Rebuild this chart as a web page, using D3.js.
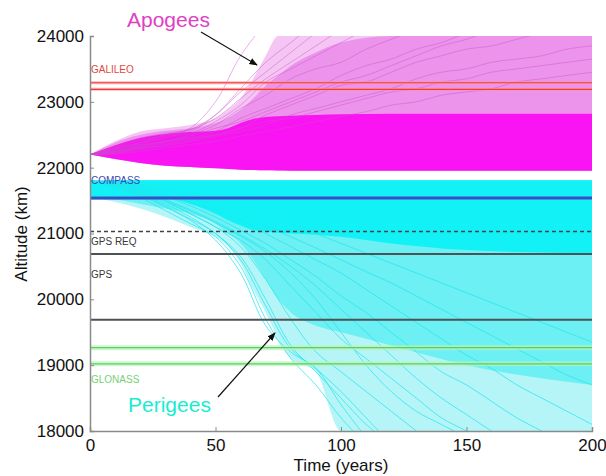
<!DOCTYPE html>
<html><head><meta charset="utf-8">
<script src="https://cdn.jsdelivr.net/npm/d3@7"></script>
<style>body{margin:0;background:#fff}svg{display:block;font-family:"Liberation Sans",Arial,sans-serif}</style>
</head><body>
<svg id="c" width="606" height="476"></svg>
<script>
// ---- data (km, years) ----
const xTicks = [0, 50, 100, 150, 200];
const yTicks = [18000, 19000, 20000, 21000, 22000, 23000, 24000];
const envTimes = [0, 10, 20, 30, 40, 50, 55, 60, 65, 70, 75, 80, 90, 100, 120, 150, 200];
const apoLower = [22200, 22130, 22070, 22030, 22010, 21990, 21980, 21970, 21965, 21960, 21958, 21955, 21955, 21955, 21955, 21955, 21955];
const apoOuter = [22200, 22400, 22550, 22600, 22650, 22750, 22880, 23050, 23350, 23700, 24000, 24000, 24000, 24000, 24000, 24000, 24000];
const apoMid = [22200, 22380, 22500, 22560, 22600, 22680, 22760, 22880, 23050, 23250, 23400, 23550, 23750, 23900, 24000, 24000, 24000];
const apoCore = [22200, 22340, 22450, 22510, 22540, 22560, 22600, 22680, 22740, 22770, 22780, 22790, 22800, 22810, 22820, 22820, 22820];
const periUpper = [21790, 21810, 21810, 21810, 21810, 21810, 21810, 21810, 21810, 21810, 21810, 21810, 21810, 21810, 21810, 21810, 21810];
const periOuter = [21560, 21480, 21380, 21250, 21100, 20950, 20800, 20550, 20150, 19800, 19400, 19100, 18900, 18000, 18000, 18000, 18000];
const periMid = [21560, 21520, 21450, 21380, 21300, 21150, 21000, 20850, 20600, 20300, 20000, 19800, 19600, 19500, 19300, 19000, 18700];
const periCore = [21560, 21560, 21560, 21540, 21450, 21300, 21200, 21120, 21050, 21030, 21010, 21000, 20980, 20950, 20850, 20750, 20700];
const lineStep = 10; // years between samples of individual trajectories
const apogeeLines = [
  [22200, 22280, 22380, 22450, 22600, 23000, 23700, 24200],
  [22200, 22250, 22350, 22500, 22550, 22800, 23200, 23600, 23900, 24200],
  [22200, 22300, 22420, 22480, 22520, 22700, 22950, 23300, 23500, 23700, 23900, 24100],
  [22200, 22260, 22330, 22400, 22500, 22650, 22900, 23100, 23350, 23500, 23600, 23800, 23950, 24100],
  [22200, 22240, 22300, 22380, 22450, 22550, 22750, 22900, 23050, 23200, 23400, 23550, 23650, 23800, 23900, 24050],
  [22200, 22220, 22280, 22350, 22420, 22500, 22600, 22800, 22950, 23100, 23250, 23300, 23450, 23600, 23700, 23800, 23850, 23950, 24050],
  [22200, 22230, 22300, 22330, 22400, 22480, 22550, 22650, 22800, 22900, 23000, 23100, 23200, 23350, 23450, 23500, 23600, 23650, 23700, 23800, 23850],
  [22200, 22300, 22350, 22400, 22450, 22500, 22600, 22700, 22750, 22850, 22950, 23050, 23150, 23200, 23300, 23350, 23450, 23500, 23550, 23600, 23650],
  [22200, 22280, 22380, 22500, 22580, 22800, 23150, 23450, 23750, 24050],
  [22200, 22320, 22450, 22520, 22580, 22750, 23050, 23350, 23600, 23850, 24100],
  [22200, 22250, 22320, 22400, 22480, 22600, 22700, 22850, 23000, 23150, 23300, 23400, 23550, 23700, 23850, 23950, 24100],
  [22200, 22210, 22250, 22300, 22350, 22400, 22480, 22550, 22620, 22700, 22780, 22850, 22950, 23000, 23100, 23150, 23200, 23300, 23350, 23400, 23450]
];
const perigeeLines = [
  [21800, 21700, 21550, 21350, 21150, 20950, 20500, 19700, 19100, 18700, 18200, 17800],
  [21800, 21720, 21600, 21450, 21250, 21000, 20650, 20000, 19300, 18900, 18500, 18100, 17800],
  [21800, 21750, 21650, 21500, 21300, 21100, 20800, 20300, 19700, 19200, 18900, 18600, 18300, 18000, 17700],
  [21800, 21740, 21620, 21480, 21300, 21100, 20900, 20600, 20200, 19800, 19400, 19100, 18800, 18500, 18200, 18000, 17800],
  [21800, 21760, 21680, 21560, 21420, 21250, 21050, 20850, 20600, 20350, 20050, 19800, 19500, 19200, 18900, 18700, 18450, 18200, 18000, 17800],
  [21800, 21770, 21700, 21600, 21480, 21350, 21200, 21000, 20800, 20600, 20400, 20150, 19900, 19650, 19400, 19150, 18950, 18700, 18500, 18300, 18100],
  [21800, 21780, 21720, 21640, 21540, 21420, 21280, 21120, 20950, 20780, 20600, 20420, 20250, 20050, 19850, 19650, 19450, 19250, 19050, 18850, 18700],
  [21800, 21700, 21580, 21400, 21200, 20900, 20400, 19600, 19200, 18950, 18400, 17900],
  [21800, 21730, 21600, 21420, 21220, 21000, 20600, 19900, 19250, 18950, 18600, 18200, 17800],
  [21800, 21760, 21660, 21520, 21360, 21180, 20980, 20760, 20500, 20200, 19850, 19500, 19150, 18800, 18500, 18250, 18000, 17800],
  [21800, 21790, 21740, 21670, 21590, 21500, 21400, 21280, 21150, 21000, 20850, 20700, 20550, 20400, 20250, 20100, 19950, 19800, 19650, 19500, 19350],
  [21800, 21750, 21640, 21500, 21340, 21160, 20960, 20720, 20400, 20000, 19500, 19000, 18600, 18300, 18100, 17900]
];
const refNames = ["GALILEO", "COMPASS", "GPS REQ", "GPS", "GLONASS"];
const refAltitudes = [[23290, 23190], [21540], [21030], [20690, 19690], [19265, 19020]];

// ---- drawing ----
const svg = d3.select("#c");
const x = d3.scaleLinear().domain([0, 200]).range([90, 592]);
const y = d3.scaleLinear().domain([18000, 24000]).range([431, 36]);

svg.append("defs").append("clipPath").attr("id", "plot")
  .append("rect").attr("x", 90).attr("y", 36).attr("width", 502).attr("height", 395);
svg.select("defs").append("marker").attr("id", "arr").attr("viewBox", "0 0 10 10")
  .attr("refX", 9).attr("refY", 5).attr("markerWidth", 7).attr("markerHeight", 7).attr("orient", "auto")
  .append("path").attr("d", "M0,1 L10,5 L0,9 Z").attr("fill", "#111");

const g = svg.append("g").attr("clip-path", "url(#plot)");
const band = (lo, hi) => d3.area().x((d, i) => x(envTimes[i])).y0((d, i) => y(lo[i])).y1((d, i) => y(hi[i])).curve(d3.curveMonotoneX)(envTimes);

g.append("path").attr("d", band(apoLower, apoOuter)).attr("fill", "#f5c6f3");
g.append("path").attr("d", band(apoLower, apoMid)).attr("fill", "#ec94ec");
g.append("path").attr("d", band(apoLower, apoCore)).attr("fill", "#fb14f3");
g.append("path").attr("d", band(periOuter, periUpper)).attr("fill", "#b6f5f7");
g.append("path").attr("d", band(periMid, periUpper)).attr("fill", "#6cf0f4");
g.append("path").attr("d", band(periCore, periUpper)).attr("fill", "#12f2f6");

const traj = d3.line().x((d, i) => x(i * lineStep)).y(d => y(d)).curve(d3.curveCatmullRom);
g.selectAll(".apo").data(apogeeLines).join("path").attr("d", traj)
  .attr("fill", "none").attr("stroke", "#c84ec8").attr("stroke-width", 0.8).attr("opacity", 0.55);
g.selectAll(".per").data(perigeeLines).join("path").attr("d", traj)
  .attr("fill", "none").attr("stroke", "#1ee6ee").attr("stroke-width", 0.9).attr("opacity", 0.8);

// reference altitude lines
const refStyles = [
  {glow: "#ff9a9a", c: "#ee3a3a", w: 1.2, gw: 3, dash: null},
  {glow: "#5a8ae0", c: "#2458c4", w: 2.6, gw: 4, dash: null},
  {glow: null, c: "#3c4448", w: 1.6, gw: 0, dash: "4,3"},
  {glow: null, c: "#4c5256", w: 2, gw: 0, dash: null},
  {glow: "#b8f4b8", c: "#5ccc66", w: 1.2, gw: 5, dash: null}
];
refAltitudes.forEach((alts, k) => {
  const s = refStyles[k];
  alts.forEach(a => {
    if (s.glow) g.append("line").attr("x1", x(0)).attr("x2", x(200)).attr("y1", y(a)).attr("y2", y(a))
      .attr("stroke", s.glow).attr("stroke-width", s.gw).attr("opacity", 0.7);
    g.append("line").attr("x1", x(0)).attr("x2", x(200)).attr("y1", y(a)).attr("y2", y(a))
      .attr("stroke", s.c).attr("stroke-width", s.w).attr("stroke-dasharray", s.dash);
  });
});
const labelCols = ["#e0483c", "#3848b8", "#383838", "#383838", "#78d078"];
const labelAlt = [23500, 21820, 20880, 20380, 18790];
refNames.forEach((n, k) => {
  svg.append("text").attr("x", 91).attr("y", y(labelAlt[k]) + 4).text(n)
    .attr("font-size", 10).attr("fill", labelCols[k]);
});

// axes
const ax = svg.append("g").attr("transform", "translate(0,431)")
  .call(d3.axisBottom(x).tickValues(xTicks).tickSize(-4).tickPadding(8).tickFormat(d3.format("d")));
const ay = svg.append("g").attr("transform", "translate(90,0)")
  .call(d3.axisLeft(y).tickValues(yTicks).tickSize(-4).tickPadding(6).tickFormat(d3.format("d")));
[ax, ay].forEach(a => {
  a.select(".domain").attr("stroke", "#8a8a8a").attr("stroke-width", 1.5);
  a.selectAll(".tick line").attr("stroke", "#8a8a8a");
  a.selectAll("text").attr("font-size", 17).attr("fill", "#111").attr("font-family", "Liberation Sans, Arial, sans-serif");
});

svg.append("text").attr("x", 341).attr("y", 471).attr("text-anchor", "middle")
  .attr("font-size", 17).attr("fill", "#111").text("Time (years)");
svg.append("text").attr("transform", "translate(27,234) rotate(-90)").attr("text-anchor", "middle")
  .attr("font-size", 17).attr("fill", "#111").text("Altitude (km)");

// annotations
svg.append("text").attr("x", 127).attr("y", 27).attr("font-size", 21).attr("fill", "#e040c4").text("Apogees");
svg.append("line").attr("x1", 201).attr("y1", 32).attr("x2", 257).attr("y2", 65)
  .attr("stroke", "#111").attr("stroke-width", 1.2).attr("marker-end", "url(#arr)");
svg.append("text").attr("x", 128).attr("y", 412).attr("font-size", 21).attr("fill", "#18ecd0").text("Perigees");
svg.append("line").attr("x1", 218).attr("y1", 397).attr("x2", 275).attr("y2", 333)
  .attr("stroke", "#111").attr("stroke-width", 1.2).attr("marker-end", "url(#arr)");
</script>
</body></html>
